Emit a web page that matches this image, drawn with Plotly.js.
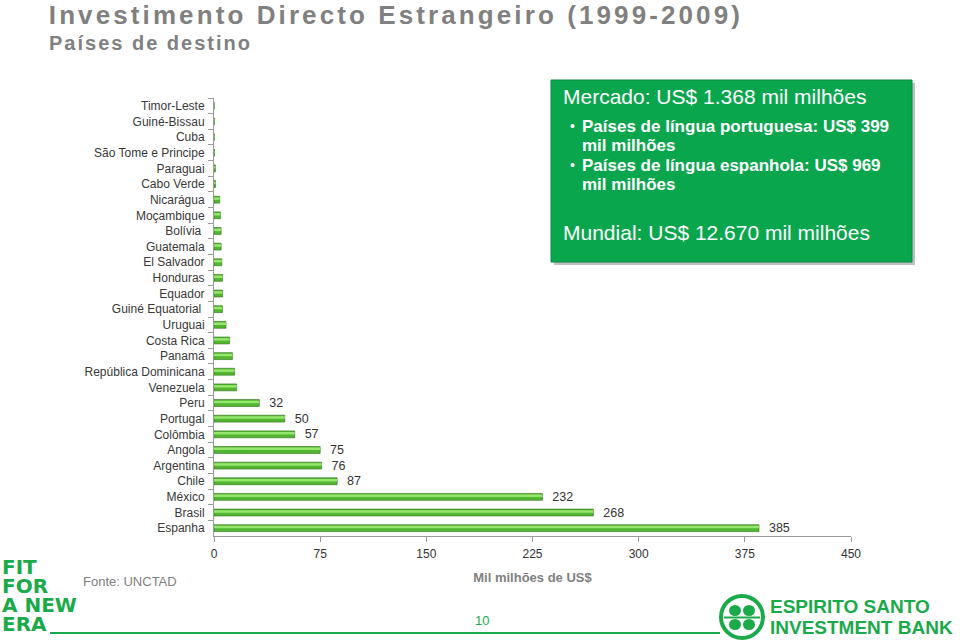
<!DOCTYPE html>
<html>
<head>
<meta charset="utf-8">
<script src="https://cdn.plot.ly/plotly-3.0.1.min.js"></script>
<style>
html,body{margin:0;padding:0;background:#fff;}
#chart{width:960px;height:640px;}
</style>
</head>
<body>
<div id="chart"></div>
<script>
// ---- data ----
const countries = ["Timor-Leste","Guiné-Bissau","Cuba","São Tome e Principe","Paraguai","Cabo Verde",
  "Nicarágua","Moçambique","Bolívia ","Guatemala","El Salvador","Honduras","Equador","Guiné Equatorial ",
  "Uruguai","Costa Rica","Panamá","República Dominicana","Venezuela","Peru","Portugal","Colômbia",
  "Angola","Argentina","Chile","México","Brasil","Espanha"];
const fdiValues = [0.1,0.2,0.2,0.3,1,1.1,4,4.5,5,5,5.5,6,6,6,8.5,11,13,14.5,16,32,50,57,75,76,87,232,268,385];
const labelledValues = [32,50,57,75,76,87,232,268,385];
const xTicks = [0,75,150,225,300,375,450];

// ---- geometry helpers (pixel -> paper) ----
const L=214, R=851, T=98, B=536;
const px = x => (x-L)/(R-L);
const py = y => (B-y)/(B-T);

const labels = fdiValues.map(v => labelledValues.includes(v) ? '\u00a0\u00a0' + v : '');

const barMain = {
  type:'bar', orientation:'h', y:countries, x:fdiValues,
  width:0.44, marker:{color:'#52b630', line:{color:'#2e6e19', width:0.6}},
  text:labels, textposition:'outside', constraintext:'none', cliponaxis:false,
  textfont:{family:'Liberation Sans, Arial, sans-serif', size:12.5, color:'#333333'},
  hoverinfo:'none', showlegend:false
};
const barHighlight = {
  type:'bar', orientation:'h', y:countries, x:fdiValues,
  width:0.16, offset:-0.15, marker:{color:'#94e66c', line:{width:0}},
  hoverinfo:'none', showlegend:false
};

const green = '#1aaa4a';
const grey = '#808080';
const ann = [];
const spacing = [];
const tightLines = [];
function txt(text,x,y,opt,ls,tight){
  ls = ls || 0;
  const plain = text.replace(/<[^>]+>/g,'');
  const shift = ls*plain.length/2;
  ann.push(Object.assign({text:text, xref:'paper', yref:'paper', x:px(x+shift), y:py(y),
    showarrow:false, xanchor:'left', yanchor:'middle'}, opt));
  spacing.push(ls);
  tightLines.push(tight || 0);
}

txt('<b>Investimento Directo Estrangeiro (1999-2009)</b>', 47, 15, {font:{family:'Liberation Sans, Arial', size:26, color:grey}}, 3.1);
txt('<b>Países de destino</b>', 47, 43, {font:{family:'Liberation Sans, Arial', size:20, color:grey}}, 2);

// green box text
const boxFont = {family:'Liberation Sans, Arial', color:'#ffffff'};
txt('Mercado: US$ 1.368 mil milhões', 561, 97, {font:Object.assign({size:21},boxFont)});
txt('•', 568, 126, {font:Object.assign({size:14},boxFont)});
txt('<b>Países de língua portuguesa: US$ 399</b>', 580, 126, {font:Object.assign({size:17},boxFont)});
txt('<b>mil milhões</b>', 580, 145, {font:Object.assign({size:17},boxFont)});
txt('•', 568, 165, {font:Object.assign({size:14},boxFont)});
txt('<b>Países de língua espanhola: US$ 969</b>', 580, 165, {font:Object.assign({size:17},boxFont)});
txt('<b>mil milhões</b>', 580, 184, {font:Object.assign({size:17},boxFont)});
txt('Mundial: US$ 12.670 mil milhões', 561, 232, {font:Object.assign({size:21},boxFont)});

// footer
txt('Fonte: UNCTAD', 81, 581, {font:{family:'Liberation Sans, Arial', size:13, color:grey}});
txt('<b>FIT</b><br><b>FOR</b><br><b>A NEW</b><br><b>ERA</b>', 0, 553,
  {yanchor:'top', align:'left', font:{family:'DejaVu Sans, Liberation Sans, Arial', size:20, color:green}}, 0, 0.95);
txt('10', 482, 620, {xanchor:'center', font:{family:'Liberation Sans, Arial', size:13, color:green}});
txt('<b>ESPIRITO SANTO</b>', 768, 606, {font:{family:'Liberation Sans, Arial', size:19, color:green}});
txt('<b>INVESTMENT BANK</b>', 768, 627, {font:{family:'Liberation Sans, Arial', size:19, color:green}});

const shapes = [
  // shadow + green box
  {type:'rect', xref:'paper', yref:'paper', x0:px(554), x1:px(915), y0:py(83), y1:py(265), fillcolor:'rgba(0,0,0,0.25)', line:{width:0}, layer:'below'},
  {type:'rect', xref:'paper', yref:'paper', x0:px(551), x1:px(912), y0:py(80), y1:py(262), fillcolor:'#0aa64e', line:{color:'#078a3f', width:1}, layer:'below'},
  // footer line
  {type:'line', xref:'paper', yref:'paper', x0:px(50), x1:px(720), y0:py(633), y1:py(633), line:{color:green, width:2}},
  // logo icon
  {type:'circle', xref:'paper', yref:'paper', x0:px(721), x1:px(763), y0:py(596), y1:py(638), line:{color:green, width:4}, fillcolor:'#ffffff'},
  {type:'circle', xref:'paper', yref:'paper', x0:px(729), x1:px(741), y0:py(605), y1:py(616), line:{width:0}, fillcolor:green},
  {type:'circle', xref:'paper', yref:'paper', x0:px(743), x1:px(755), y0:py(605), y1:py(616), line:{width:0}, fillcolor:green},
  {type:'circle', xref:'paper', yref:'paper', x0:px(729), x1:px(741), y0:py(619), y1:py(630), line:{width:0}, fillcolor:green},
  {type:'circle', xref:'paper', yref:'paper', x0:px(743), x1:px(755), y0:py(619), y1:py(630), line:{width:0}, fillcolor:green},
  {type:'line', xref:'paper', yref:'paper', x0:px(724), x1:px(760), y0:py(617.5), y1:py(617.5), line:{color:green, width:2}}
];

const layout = {
  width:960, height:640,
  margin:{l:L, r:960-R, t:T, b:640-B},
  paper_bgcolor:'#ffffff', plot_bgcolor:'#ffffff',
  barmode:'overlay',
  font:{family:'Liberation Sans, Arial, sans-serif', color:'#333333'},
  xaxis:{range:[0,450], tickvals:xTicks, ticktext:xTicks.map(String), showgrid:false, zeroline:false,
    showline:true, linecolor:'#9a9a9a', linewidth:1, ticks:'outside', ticklen:5, tickcolor:'#9a9a9a',
    ticklabelstandoff:2, tickfont:{size:12, color:'#333333'},
    title:{text:'<b>Mil milhões de US$</b>', font:{size:13, color:grey}, standoff:12}},
  yaxis:{type:'category', autorange:'reversed', showgrid:false, zeroline:false,
    showline:true, linecolor:'#9a9a9a', linewidth:1, ticks:'outside', ticklen:5, tickcolor:'#9a9a9a',
    tickson:'boundaries', ticklabelstandoff:6, tickfont:{size:12, color:'#383838'}},
  annotations:ann, shapes:shapes
};

Plotly.newPlot('chart',[barMain, barHighlight],layout,{displayModeBar:false, staticPlot:true}).then(()=>{
  document.querySelectorAll('.annotation').forEach(g=>{
    const i = +g.getAttribute('data-index');
    const t = g.querySelector('.annotation-text');
    if (!t) return;
    if (spacing[i]) t.style.letterSpacing = spacing[i] + 'px';
    if (tightLines[i]) {
      t.querySelectorAll('tspan.line').forEach((ts,k)=>{ ts.setAttribute('dy', (k*tightLines[i]) + 'em'); });
    }
  });
});
</script>
</body>
</html>
